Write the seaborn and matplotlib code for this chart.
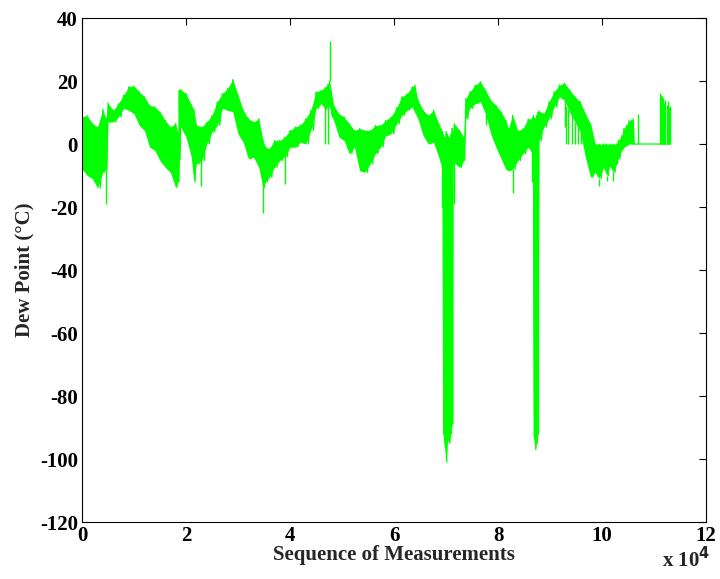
import numpy as np
import pandas as pd
import matplotlib
matplotlib.use("Agg")
import matplotlib.pyplot as plt
import seaborn as sns

sns.set_style("white")
plt.rcParams['font.family'] = ['Liberation Serif', 'DejaVu Serif']
plt.rcParams['font.weight'] = 'bold'
plt.rcParams['axes.unicode_minus'] = False

# Band of the dew point trace
# position (thousands of measurements), upper and lower edge (deg C)
pos_k = [0, 1, 2, 3, 4, 4.6, 5, 6, 7, 8, 9, 10, 11, 12, 13, 14, 15, 16, 17, 18,
         18.5, 18.7, 19, 20, 21, 21.5, 22, 23, 24, 25, 26, 27, 28, 29, 30, 31,
         32, 33, 34, 34.8, 35.3, 36, 37, 38, 39, 40, 41, 42, 43, 44, 45, 46,
         46.8, 47.3, 47.6, 47.9, 48.4, 49.4, 50.4, 51.4, 52.4, 53.4, 54.4, 55.4,
         56.4, 57.4, 58.4, 59.4, 60.5, 61.5, 62.5, 63.5, 64, 64.6, 65.6, 66.6,
         67.6, 68.6, 69.3, 69.4, 69.7, 70.0, 70.3, 70.6, 70.9, 71.2, 71.35,
         71.6, 72.6, 73.4, 73.8, 74.6, 75.6, 76.6, 77.6, 78.6, 79.6, 80.6, 81.5,
         82, 82.8, 83.8, 84.8, 85.8, 86.6, 86.8, 87.15, 87.4, 87.7, 87.85, 88.8,
         89.8, 90.8, 91.8, 92.8, 93.8, 94.8, 95.8, 96.8, 97.8, 98.7, 99.4, 100.3,
         100.9, 101.5, 102.2, 102.8, 103.1, 103.8, 104.2, 104.7, 105.2, 105.7,
         106.0, 106.2, 113.1]
upper = [8.6, 9, 6.5, 5.4, 11, 8, 13, 10.7, 12.8, 15.5, 18.2, 18.4, 16.6, 15, 12.3, 11.8, 10.2, 7.5, 5.4, 6.5,
         3, 17, 17.3, 16, 12.5, 11, 6, 5.4, 7, 9.1, 13.4, 16, 17.6, 20.5, 15.5, 10.7,
         8, 7, 8, 1.1, -1, -1.5, 1.1, 1.1, 2.2, 4.3, 5.4, 6, 8, 10.7, 16.6, 17.1,
         18, 19, 20, 17, 12.3, 9.6, 8.6, 6.4, 4.3, 4.9, 4.3, 4.3,
         5.9, 5.9, 7.5, 8.6, 11.5, 15, 16, 18.2, 18.7, 13.9, 10.7, 9.1,
         10.7, 6.4, 4, 3, 2, 4, 3, 2, 3, 5, 4,
         6.4, 4.3, 2.2, 14.4, 16.6, 18.7, 19.8, 17.1, 13.9, 12.3, 10.2, 7.5,
         4.9, 9.1, 4.3, 4.9, 8, 8, 9, 8, 9, 10, 10.5, 9.6,
         13.4, 16.6, 18.7, 19.3, 17.1, 15, 13.4, 9.6, 6.4, 0, 0, 0,
         0, 0, 0, 0, 1.1, 2.7, 5, 5.9, 7.5, 7.5,
         8, 0, 0]
lower = [-8, -10, -11, -14, -9, -8, 7, 7, 8.6, 11.3, 10.7, 9.6, 5.9, 4.3, -1, -2, -5.3, -7.4, -9, -13.8,
         -12, -5, 5.4, 2.2, -4, -12, -6.3, -5.3, 0, 3.8, 5.9, 11.3, 10.7, 10.2, 3.2, 0.6,
         -4.7, -4.2, -7.4, -14, -12, -10.6, -7.4, -5.3, -4, -1, -1, 0.6, 0, 4.3, 11.3, 12.8,
         11, 12, 12, 9, 7.5, 2.2, 1.1, -3.1, -1, -8.5, -9, -6.3,
         -3.1, -1, 2.7, 3.2, 6.4, 9.1, 10.7, 11.8, 10, 8, 2.7, 0,
         0.6, -4.2, -8, -92, -96, -101, -94, -95, -92, -89, -6,
         -6, -7.4, -5.3, 8, 11.3, 12.8, 13.4, 9.6, 3.2, -1, -4.7, -8,
         -8.5, -8, -5.3, -3.1, -1, -3, -93, -97, -95, -92, 1, 5.4,
         8, 11.8, 15, 13.9, 10, 7, 4, -4.2, -10.6, -9, -11, -7.4,
         -10, -7, -9, -6.4, -4.7, -2, -1, -0.5, 0, 0,
         0, 0, 0]

# isolated spikes: position (thousands), start and end value (deg C)
spike_k = [4.6, 22.8, 34.8, 39, 46.8, 47.3, 47.6, 69.2, 71.6, 77.6, 82.8, 86.6,
           92.8, 93.0, 93.5, 94.2, 94.8, 95.3, 95.9, 99.4, 100.9, 102.2, 106.9,
           111.2, 111.4, 111.6, 111.8, 112.0, 112.2, 112.4, 112.6, 112.8, 113.0]
spike_from = [5, -3, -10, -2, 12, 12, 20, -5, -5, 9.6, -8, -3,
              13.9, 12, 11, 9, 7, 6, 4, -11, -10, -9, 0,
              0, 0, 0, 0, 0, 0, 0, 0, 0, 0]
spike_to = [-19, -13.3, -21.8, -12.7, 0, 0, 32.6, -20, -19, 6, -15.4, -12,
            5.4, 0, 0, 0, 0, 0, 0, -13.3, -11.8, -11.8, 9.5,
            16.3, 15.5, 15.3, 14.5, 13, 14, 12.5, 13.5, 11.6, 12]

green = '#00ff00'
band = pd.DataFrame({'seq': np.array(pos_k) * 1000, 'up': upper, 'lo': lower})

# zigzag between the upper and lower edge
xs, ys = [], []
for i in range(len(pos_k)):
    nxt = pos_k[i + 1] if i + 1 < len(pos_k) else pos_k[i]
    xs += [pos_k[i] * 1000, (pos_k[i] + nxt) / 2 * 1000]
    ys += [upper[i], lower[i]]
df = pd.DataFrame({'seq': xs, 'dew': ys})

fig = plt.figure(figsize=(7.2, 5.79), dpi=100)
ax = fig.add_axes([0.1139, 0.0984, 0.8667, 0.8705])
ax.fill_between(band['seq'], band['lo'], band['up'], color=green, linewidth=0)
sns.lineplot(data=df, x='seq', y='dew', sort=False, estimator=None,
             color=green, linewidth=0.9, ax=ax)
ax.vlines(np.array(spike_k) * 1000, spike_from, spike_to, color=green, linewidth=1)

ax.set_xlim(0, 120000)
ax.set_ylim(-120, 40)
ax.set_xticks(np.arange(0, 120001, 20000))
ax.set_xticklabels([str(v) for v in range(0, 13, 2)])
ax.set_yticks(np.arange(-120, 41, 20))
ax.tick_params(direction='in', length=5, width=0.8, top=True, right=True,
               labelsize=15, pad=3, colors='black')
for lab in ax.get_xticklabels() + ax.get_yticklabels():
    lab.set_fontweight('bold')
for s in ax.spines.values():
    s.set_color('black')
    s.set_linewidth(0.8)

ax.set_xlabel('Sequence of Measurements', fontsize=15, fontweight='bold', labelpad=-1)
ax.set_ylabel('Dew Point (°C)', fontsize=15, fontweight='bold', labelpad=4)
fig.text(0.92, 0.012, r'x 10$^{\mathbf{4}}$', fontsize=15, fontweight='bold', ha='left', va='bottom')

fig.savefig('out.png', dpi=100)
